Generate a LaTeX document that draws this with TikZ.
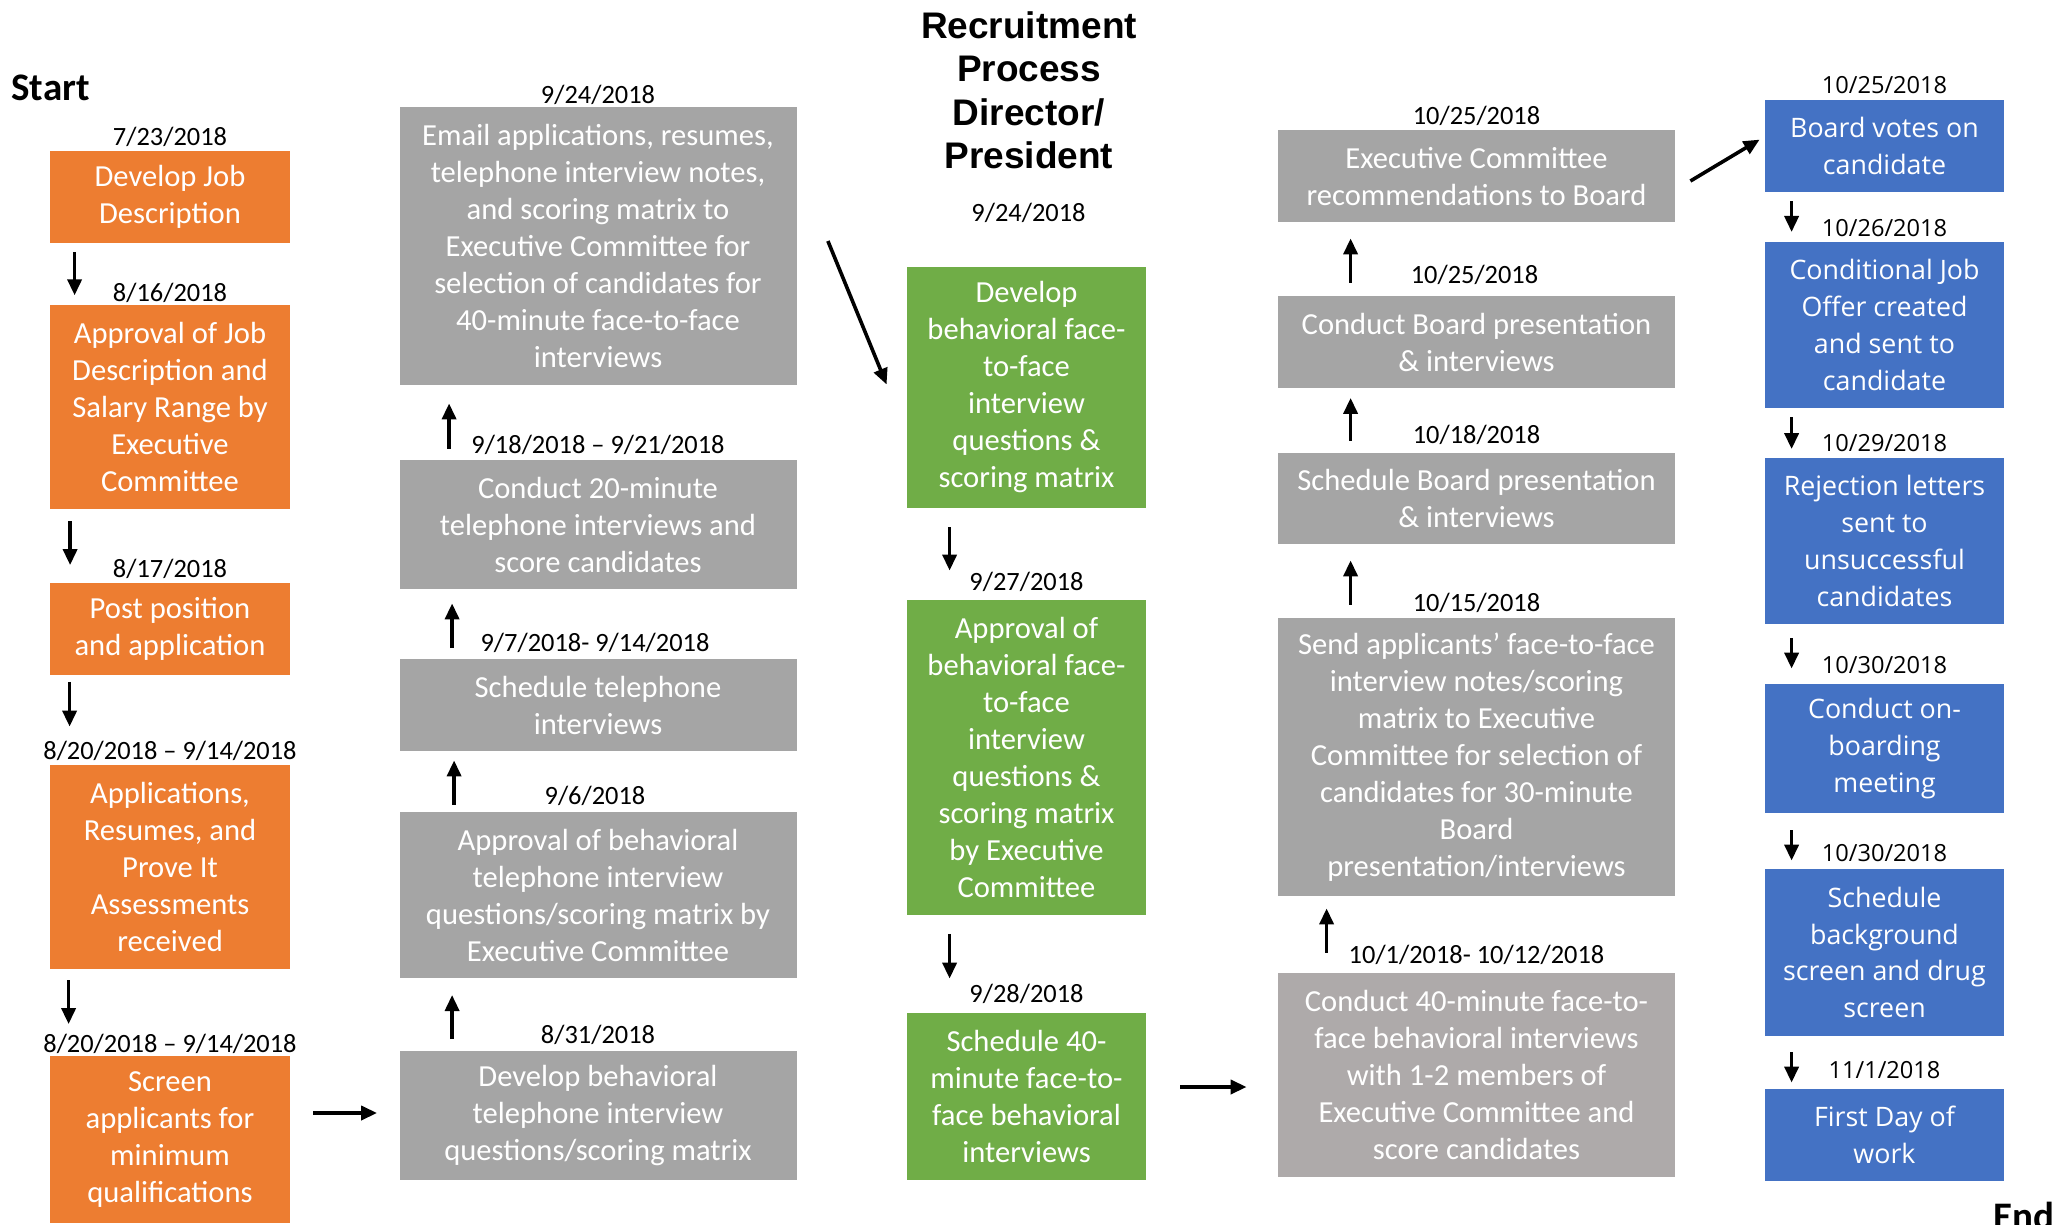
\documentclass[tikz,border=0pt]{standalone}
\usepackage{fontspec}
\setmainfont{Carlito}
\newfontfamily\opensans{Open Sans}
\newfontfamily\titlefont{Liberation Sans}
\usetikzlibrary{calc}
\usetikzlibrary{arrows.meta}

\definecolor{stepOrange}{HTML}{ED7D31}
\definecolor{stepGray}{HTML}{A5A5A5}
\definecolor{stepWarmGray}{HTML}{AEAAAA}
\definecolor{stepGreen}{HTML}{70AD47}
\definecolor{stepBlue}{HTML}{4472C4}

\begin{document}
\begin{tikzpicture}[x=0.5pt, y=-0.5pt, >={Triangle[length=8pt,width=7pt]},
    box/.style={inner sep=0pt, align=center, text=white, font=\fontsize{15.3}{18.5}\selectfont},
    orangebox/.style={box, fill=stepOrange, minimum width=120pt},
    graybox/.style={box, fill=stepGray, minimum width=198.5pt},
    greenbox/.style={box, fill=stepGreen, minimum width=119.5pt},
    bluebox/.style={box, fill=stepBlue, minimum width=119.5pt, font=\opensans\fontsize{13.4}{18.4}\selectfont},
    date/.style={anchor=base, inner sep=0pt, font=\fontsize{13.2}{16}\selectfont},
    bluedate/.style={date, font=\opensans\fontsize{11.8}{14}\selectfont},
    flow/.style={->, line width=1.8pt}]
  \useasboundingbox (0,0) rectangle (2057,1225);

  % Headings
  \node[anchor=base west, inner sep=0pt, font=\bfseries\fontsize{19.5}{22}\selectfont] (start) at (11,101) {Start};
  \node[anchor=north, inner sep=0pt, align=center, font=\titlefont\bfseries\fontsize{18.5}{21.75}\selectfont] (title) at (1029,11)
    {Recruitment\\Process\\Director/\\President};
  \node[anchor=base west, inner sep=0pt, font=\bfseries\fontsize{19.5}{22}\selectfont] (end) at (1993,1229) {End};

  % Orange column
  \node[orangebox, minimum height=46pt] (o1) at (170,197) {Develop Job\\Description};
  \node[orangebox, minimum height=101.75pt] (o2) at (170,407) {Approval of Job\\Description and\\Salary Range by\\Executive\\Committee};
  \node[orangebox, minimum height=46pt] (o3) at (170,628.5) {Post position\\and application};
  \node[orangebox, minimum height=102pt] (o4) at (170,867) {Applications,\\Resumes, and\\Prove It\\Assessments\\received};
  \node[orangebox, minimum height=83.5pt] (o5) at (170,1139.5) {Screen\\applicants for\\minimum\\qualifications};
  \node[date] at ([yshift=2.5pt]o1.north) {7/23/2018};
  \node[date] at ([yshift=1.5pt]o2.north) {8/16/2018};
  \node[date] at ([yshift=2.25pt]o3.north) {8/17/2018};
  \node[date] at ([yshift=2.8pt]o4.north) {8/20/2018 – 9/14/2018};
  \node[date] at ([yshift=1.8pt]o5.north) {8/20/2018 – 9/14/2018};

  % Gray column, read from the bottom up
  \node[graybox, minimum height=139pt] (email) at (598,246) {Email applications, resumes,\\telephone interview notes,\\and scoring matrix to\\Executive Committee for\\selection of candidates for\\40-minute face-to-face\\interviews};
  \node[graybox, minimum height=64.5pt] (phonecall) at (598,524.5) {Conduct 20-minute\\telephone interviews and\\score candidates};
  \node[graybox, minimum height=46pt] (phonesched) at (598,705) {Schedule telephone\\interviews};
  \node[graybox, minimum height=83pt] (phoneok) at (598,895) {Approval of behavioral\\telephone interview\\questions/scoring matrix by\\Executive Committee};
  \node[graybox, minimum height=64.5pt] (phonedev) at (598,1115.5) {Develop behavioral\\telephone interview\\questions/scoring matrix};
  \node[date] at ([yshift=1.75pt]email.north) {9/24/2018};
  \node[date] at ([yshift=3.25pt]phonecall.north) {9/18/2018 – 9/21/2018};
  \node[date] at ([xshift=-1.5pt,yshift=3.5pt]phonesched.north) {9/7/2018- 9/14/2018};
  \node[date] at ([xshift=-1.5pt,yshift=3.5pt]phoneok.north) {9/6/2018};
  \node[date] at ([yshift=3.5pt]phonedev.north) {8/31/2018};

  % Green column
  \node[greenbox, minimum height=120.5pt] (g1) at (1026.5,387.5) {Develop\\behavioral face-\\to-face\\interview\\questions \&\\scoring matrix};
  \node[greenbox, minimum height=157.5pt] (g2) at (1026.5,757) {Approval of\\behavioral face-\\to-face\\interview\\questions \&\\scoring matrix\\by Executive\\Committee};
  \node[greenbox, minimum height=83.5pt] (g3) at (1026.5,1096) {Schedule 40-\\minute face-to-\\face behavioral\\interviews};
  \node[date] at ([xshift=1pt,yshift=22.75pt]g1.north) {9/24/2018};
  \node[date] at ([yshift=4.25pt]g2.north) {9/27/2018};
  \node[date] at ([yshift=4.75pt]g3.north) {9/28/2018};

  % Board column, read from the bottom up
  \node[graybox, minimum height=46pt] (recommend) at (1476.5,176.5) {Executive Committee\\recommendations to Board};
  \node[graybox, minimum height=46pt] (boardmeet) at (1476.5,342) {Conduct Board presentation\\\& interviews};
  \node[graybox, minimum height=45.5pt] (boardsched) at (1476.5,498.5) {Schedule Board presentation\\\& interviews};
  \node[graybox, minimum height=139pt] (sendnotes) at (1476.5,757) {Send applicants’ face-to-face\\interview notes/scoring\\matrix to Executive\\Committee for selection of\\candidates for 30-minute\\Board\\presentation/interviews};
  \node[graybox, fill=stepWarmGray, minimum height=102pt] (facemeet) at (1476.5,1075) {Conduct 40-minute face-to-\\face behavioral interviews\\with 1-2 members of\\Executive Committee and\\score candidates};
  \node[date] at ([yshift=2.75pt]recommend.north) {10/25/2018};
  \node[date] at ([xshift=-1pt,yshift=6.25pt]boardmeet.north) {10/25/2018};
  \node[date] at ([yshift=4.7pt]boardsched.north) {10/18/2018};
  \node[date] at ([yshift=3.15pt]sendnotes.north) {10/15/2018};
  \node[date] at ([yshift=4.5pt]facemeet.north) {10/1/2018- 10/12/2018};

  % Blue column
  \node[bluebox, minimum height=46pt] (vote) at (1884.5,146) {Board votes on\\candidate};
  \node[bluebox, minimum height=83pt] (offer) at (1884.5,325) {Conditional Job\\Offer created\\and sent to\\candidate};
  \node[bluebox, minimum height=83pt] (reject) at (1884.5,541) {Rejection letters\\sent to\\unsuccessful\\candidates};
  \node[bluebox, minimum height=64.5pt] (onboard) at (1884.5,748.5) {Conduct on-\\boarding\\meeting};
  \node[bluebox, minimum height=83.5pt] (screen) at (1884.5,952.5) {Schedule\\background\\screen and drug\\screen};
  \node[bluebox, minimum height=46pt] (firstday) at (1884.5,1135) {First Day of\\work};
  \node[bluedate] at ([yshift=3pt]vote.north) {10/25/2018};
  \node[bluedate] at ([yshift=2.5pt]offer.north) {10/26/2018};
  \node[bluedate] at ([yshift=3.25pt]reject.north) {10/29/2018};
  \node[bluedate] at ([yshift=5.1pt]onboard.north) {10/30/2018};
  \node[bluedate] at ([yshift=3.5pt]screen.north) {10/30/2018};
  \node[bluedate] at ([yshift=5pt]firstday.north) {11/1/2018};

  % Arrows down the orange column
  \foreach \a/\b/\x/\s/\e in {o1/o2/25/9/9.5, o2/o3/20.5/12/17, o3/o4/20/7/38, o4/o5/19/11/31.5}
    \draw[flow] ($(\a.south west)+(\x,\s)$) -- ($(\b.north west)+(\x,-\e)$);
  \draw[flow] ($(o5.east)+(23,-26.5)$) -- ($(phonedev.west)+(-22,-2.5)$);

  % Arrows up the gray column
  \foreach \a/\b/\x/\s/\e in {phonedev/phoneok/53/11.4/16.6, phoneok/phonesched/55/7/9,
      phonesched/phonecall/53/10.4/14, phonecall/email/50/11/18}
    \draw[flow] ($(\a.north west)+(\x,-\s)$) -- ($(\b.south west)+(\x,\e)$);
  \draw[flow] ($(email.east)+(31,-5)$) -- ($(g1.west)+(-20,-3)$);

  % Arrows down the green column
  \draw[flow] ($(g1.south west)+(43,19)$) -- ($(g2.north west)+(43,-28.5)$);
  \draw[flow] ($(g2.south west)+(43,19)$) -- ($(g3.north west)+(43,-33.5)$);
  \draw[flow] ($(g3.east)+(34,-9)$) -- ($(facemeet.west)+(-31,12)$);

  % Arrows up the board column
  \foreach \a/\b/\x/\s/\e in {facemeet/sendnotes/49/20/12, sendnotes/boardsched/73/13/16,
      boardsched/boardmeet/73/12/9.5, boardmeet/recommend/73/13/15.5}
    \draw[flow] ($(\a.north west)+(\x,-\s)$) -- ($(\b.south west)+(\x,\e)$);
  \draw[flow] ($(recommend.east)+(15,4.5)$) -- ($(vote.west)+(-5,-6.4)$);

  % Arrows down the blue column
  \foreach \a/\b/\s/\e in {vote/offer/9/9.6, offer/reject/9/8.5, reject/onboard/14/15,
      onboard/screen/17/8, screen/firstday/16/6}
    \draw[flow] ($(\a.south west)+(27,\s)$) -- ($(\b.north west)+(27,-\e)$);
\end{tikzpicture}
\end{document}
